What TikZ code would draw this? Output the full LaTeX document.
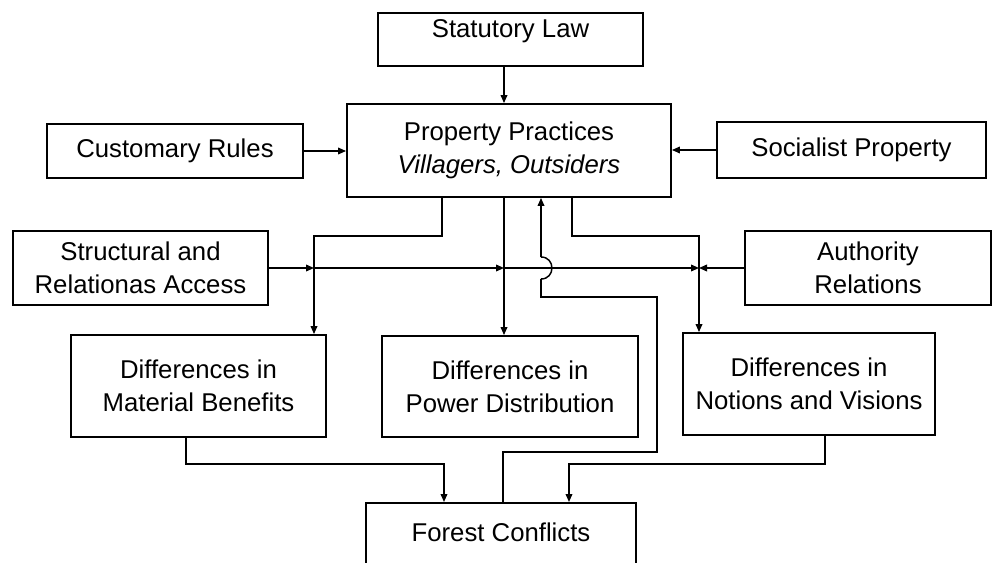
\documentclass[tikz,border=0pt]{standalone}
\usepackage{fontspec}
\setmainfont{Liberation Sans}
\usetikzlibrary{arrows.meta,calc}

\begin{document}
\begin{tikzpicture}[x=.75pt,y=-.75pt,
		box/.style 2 args={draw,line width=1.4pt,inner sep=0pt,align=center,
			minimum width=#1*.75pt,minimum height=#2*.75pt},
		link/.style={line width=1.1pt},
		arr/.style={link,-{Triangle[length=6pt,width=5pt]}},
		font=\fontsize{19.3}{25}\selectfont]
		\clip (0,0) rectangle (992,563);

		\node[box={265}{53},text height=25*.75pt,text depth=28*.75pt] (stat) at (510.5,39.5) {Statutory Law};
		\node[box={324}{93}] (prop) at (509,150.5) {Property Practices\\\textit{Villagers, Outsiders}};
		\node[box={256}{54}] (cust) at (175,151) {Customary Rules};
		\node[box={269}{56}] (soc) at (851.5,150) {Socialist Property};
		\node[box={255}{74}] (struct) at (140.5,268) {Structural and\\Relationas Access};
		\node[box={246}{74}] (auth) at (868,268) {Authority\\Relations};
		\node[box={255}{102}] (mat) at (198.5,386) {Differences in\\Material Benefits};
		\node[box={256}{101}] (pow) at (510,386.5) {Differences in\\Power Distribution};
		\node[box={252}{102}] (not) at (809,384) {Differences in\\Notions and Visions};
		\node[box={270}{64},text height=39*.75pt,text depth=25*.75pt,anchor=north] (forest) at (501,502) {Forest Conflicts};

		\coordinate (bl) at (442,236);
		\coordinate (cl) at (314,236);
		\coordinate (br) at (572,236);
		\coordinate (cr) at (699,236);
		\coordinate (hl) at (314,268);
		\coordinate (cc) at (504,268);
		\coordinate (hr) at (699,268);
		\coordinate (f1) at (503,452);
		\coordinate (f2) at (657,452);
		\coordinate (f3) at (657,297);
		\coordinate (f4) at (541,297);
		\coordinate (f5) at (541,279);
		\coordinate (f6) at (541,257);
		\coordinate (m1) at (186,464);
		\coordinate (m2) at (444,464);
		\coordinate (n1) at (825,464);
		\coordinate (n2) at (569,464);

		\draw[arr] (stat.south -| cc)--(prop.north -| cc);
		\draw[arr] (cust.east)--(cust.east -| prop.west);
		\draw[arr] (soc.west)--(soc.west -| prop.east);
		\draw[arr] (prop.south -| bl)--(bl)--(cl)--(cl |- mat.north);
		\draw[arr] (prop.south -| cc)--(cc |- pow.north);
		\draw[arr] (prop.south -| br)--(br)--(cr)--(cr |- not.north);
		\draw[arr] (struct.east)--(hl);
		\draw[arr] (hl)--(cc);
		\draw[arr] (cc)--(hr);
		\draw[arr] (auth.west)--(hr);
		\draw[link] (forest.north -| f1)--(f1)--(f2)--(f3)--(f4)--(f5);
		\draw[link] (f5) to[out=0,in=0,looseness=1.7] (f6);
		\draw[arr] (f6)--(prop.south -| f6);
		\draw[arr] (mat.south -| m1)--(m1)--(m2)--(m2 |- forest.north);
		\draw[arr] (not.south -| n1)--(n1)--(n2)--(n2 |- forest.north);
	\end{tikzpicture}
\end{document}
